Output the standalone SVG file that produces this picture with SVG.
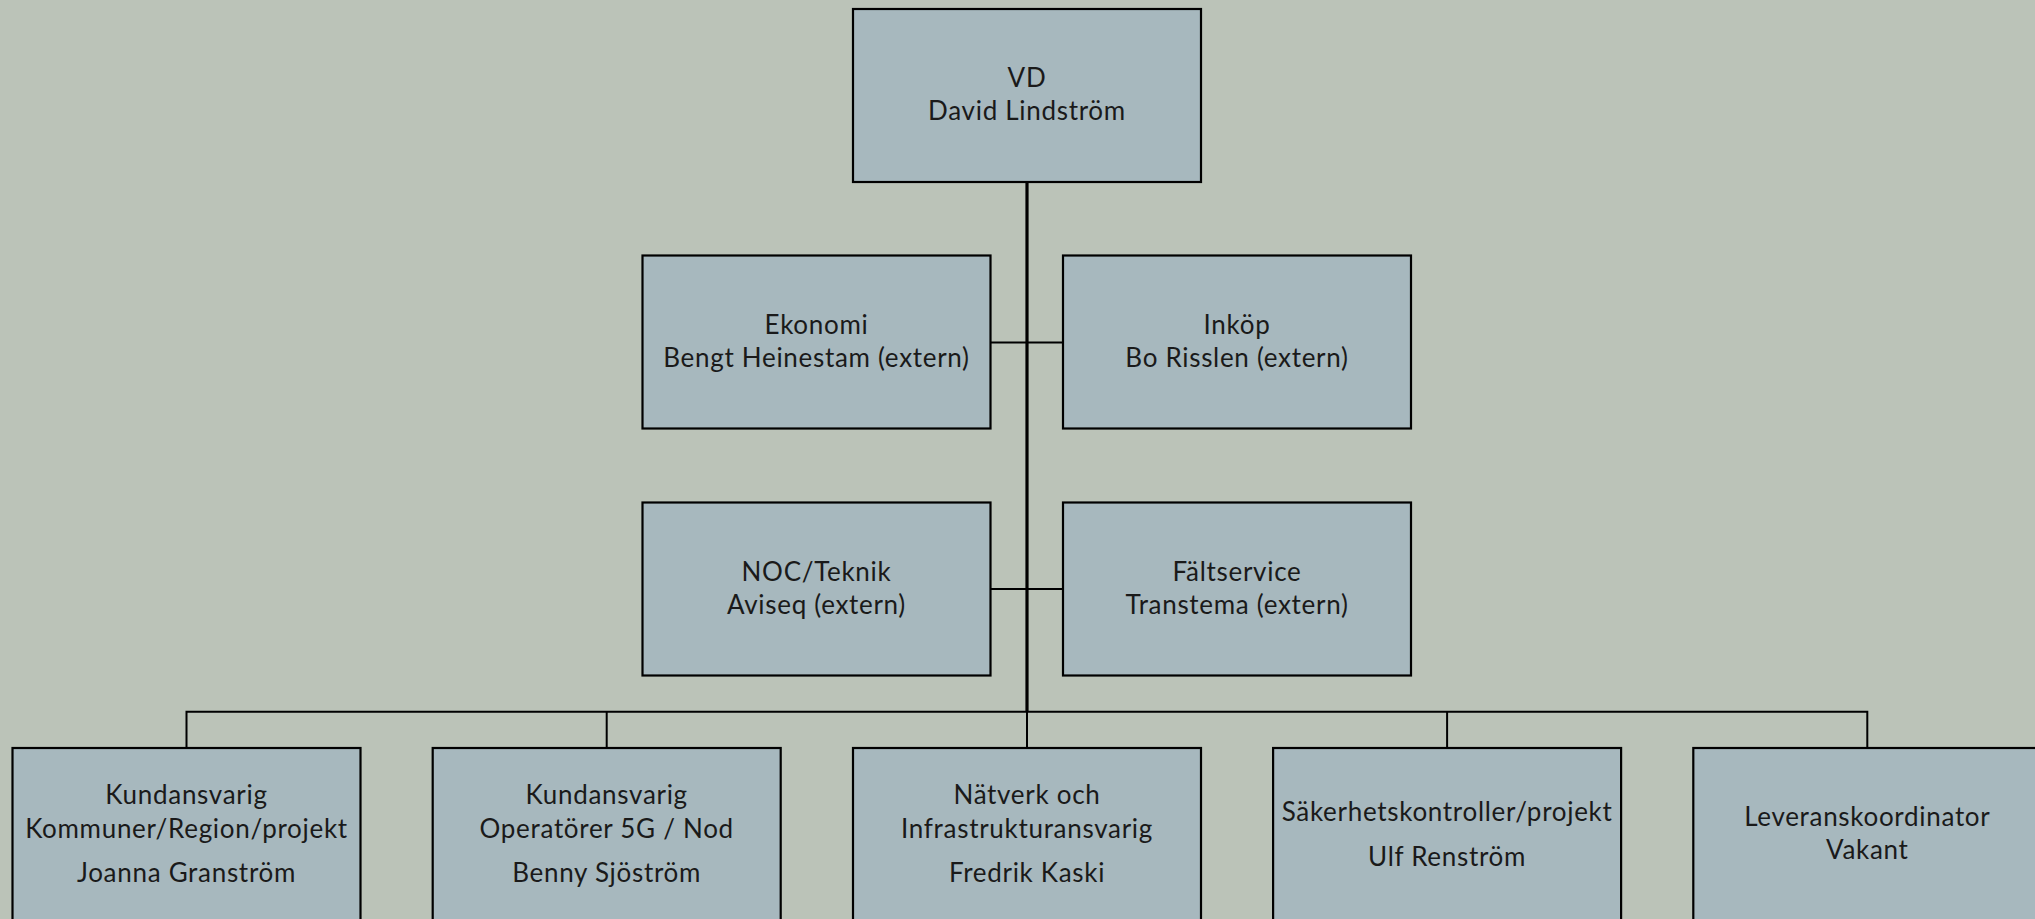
<svg xmlns="http://www.w3.org/2000/svg" width="2035" height="919" viewBox="0 0 2035 919">
<style>
.bg{fill:#bbc3b8}
.box{fill:#a7b8be;stroke:#000;stroke-width:2.2}
.t{font-family:"Lato","Noto Sans",sans-serif;font-size:26px;letter-spacing:0.7px;fill:#1a1a1a;text-anchor:middle}
.ln{stroke:#000;stroke-width:2;fill:none}
.main{stroke:#000;stroke-width:3.2;fill:none}
</style>
<rect class="bg" x="0" y="0" width="2035" height="919"/>
<g id="connectors">
<line class="main" x1="1027" y1="182" x2="1027" y2="711.7"/>
<line class="ln" x1="990.5" y1="342.5" x2="1063" y2="342.5"/>
<line class="ln" x1="990.5" y1="589" x2="1063" y2="589"/>
<polyline class="ln" points="186.5,748 186.5,711.7 1867.3,711.7 1867.3,748"/>
<line class="ln" x1="606.7" y1="711.7" x2="606.7" y2="748"/>
<line class="ln" x1="1027" y1="711.7" x2="1027" y2="748"/>
<line class="ln" x1="1447.1" y1="711.7" x2="1447.1" y2="748"/>
</g>
<g id="vd">
<rect class="box" x="853" y="9" width="348" height="173"/>
<text class="t" x="1027" y="87">VD</text>
<text class="t" x="1027" y="120">David Lindström</text>
</g>
<g id="ekonomi">
<rect class="box" x="642.5" y="255.5" width="348" height="173"/>
<text class="t" x="816.5" y="334">Ekonomi</text>
<text class="t" x="816.5" y="367">Bengt Heinestam (extern)</text>
</g>
<g id="inkop">
<rect class="box" x="1063" y="255.5" width="348" height="173"/>
<text class="t" x="1237" y="334">Inköp</text>
<text class="t" x="1237" y="367">Bo Risslen (extern)</text>
</g>
<g id="noc">
<rect class="box" x="642.5" y="502.5" width="348" height="173"/>
<text class="t" x="816.5" y="581">NOC/Teknik</text>
<text class="t" x="816.5" y="614">Aviseq (extern)</text>
</g>
<g id="faltservice">
<rect class="box" x="1063" y="502.5" width="348" height="173"/>
<text class="t" x="1237" y="581">Fältservice</text>
<text class="t" x="1237" y="614">Transtema (extern)</text>
</g>
<g id="kund1">
<rect class="box" x="12.5" y="748" width="348" height="173"/>
<text class="t" x="186.5" y="804">Kundansvarig</text>
<text class="t" x="186.5" y="837.5">Kommuner/Region/projekt</text>
<text class="t" x="186.5" y="881.5">Joanna Granström</text>
</g>
<g id="kund2">
<rect class="box" x="432.7" y="748" width="348" height="173"/>
<text class="t" x="606.7" y="804">Kundansvarig</text>
<text class="t" x="606.7" y="837.5">Operatörer 5G / Nod</text>
<text class="t" x="606.7" y="881.5">Benny Sjöström</text>
</g>
<g id="natverk">
<rect class="box" x="853" y="748" width="348" height="173"/>
<text class="t" x="1027" y="804">Nätverk och</text>
<text class="t" x="1027" y="837.5">Infrastrukturansvarig</text>
<text class="t" x="1027" y="881.5">Fredrik Kaski</text>
</g>
<g id="sakerhet">
<rect class="box" x="1273.1" y="748" width="348" height="173"/>
<text class="t" x="1447.1" y="820.5">Säkerhetskontroller/projekt</text>
<text class="t" x="1447.1" y="866">Ulf Renström</text>
</g>
<g id="leverans">
<rect class="box" x="1693.3" y="748" width="348" height="173"/>
<text class="t" x="1867.3" y="826">Leveranskoordinator</text>
<text class="t" x="1867.3" y="859">Vakant</text>
</g>
</svg>
